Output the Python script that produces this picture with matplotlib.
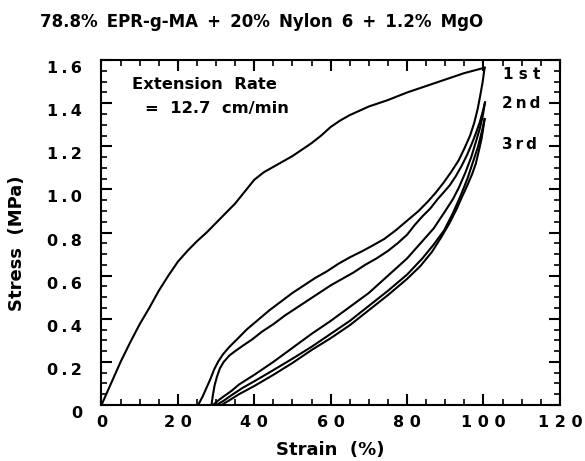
import numpy as np
import matplotlib
matplotlib.use("Agg")
import matplotlib.pyplot as plt
from matplotlib.ticker import MultipleLocator, FixedLocator
from matplotlib.transforms import ScaledTranslation

# cycle 1 loading
strain_load1 = [0, 2.5, 5, 7.5, 10, 12.5, 15, 17.5, 20, 22.5, 25, 27.5, 30, 32.5, 35,
                37.5, 40, 42.5, 45, 47.5, 50, 52.5, 55, 57.5, 60, 62.5, 65, 67.5, 70,
                75, 80, 85, 90, 95, 100.3]
stress_load1 = [0, 0.10, 0.20, 0.29, 0.375, 0.45, 0.53, 0.60, 0.665, 0.715, 0.76, 0.80,
                0.845, 0.89, 0.935, 0.99, 1.045, 1.08, 1.105, 1.13, 1.155, 1.185, 1.215,
                1.25, 1.29, 1.32, 1.345, 1.365, 1.385, 1.415, 1.45, 1.48, 1.51, 1.54, 1.565]

# cycle 1 unloading
strain_unload1 = [100.3, 99.8, 99.2, 98.5, 97.6, 96.5, 95, 93.5, 91.5, 89.5, 87.5, 85.5,
                  83, 80, 77, 74, 71, 68.4, 65, 62, 59, 56, 53, 50, 47, 44, 41, 38, 35.5,
                  33.5, 31.8, 30.5, 29.5, 28.5, 27.5, 26.5, 25.3]
stress_unload1 = [1.565, 1.50, 1.44, 1.375, 1.31, 1.25, 1.19, 1.135, 1.08, 1.03, 0.985, 0.945,
                  0.90, 0.855, 0.81, 0.77, 0.74, 0.715, 0.685, 0.655, 0.62, 0.59, 0.555, 0.52,
                  0.48, 0.44, 0.395, 0.35, 0.305, 0.27, 0.235, 0.20, 0.165, 0.12, 0.08, 0.04, 0]

# cycle 2 unloading
strain_unload2 = [100.4, 99.8, 99, 98, 96.9, 95.7, 94.3, 92.7, 91.2, 90, 88, 86, 84, 82, 80,
                  77.5, 75, 72, 69, 66, 63, 60, 57, 54, 51, 48, 45, 42, 39.5, 37, 35, 33.5,
                  32, 31, 30.2, 29.6, 29.2, 28.8]
stress_unload2 = [1.404, 1.36, 1.31, 1.26, 1.21, 1.16, 1.11, 1.06, 1.02, 0.995, 0.955, 0.91,
                  0.875, 0.835, 0.79, 0.75, 0.715, 0.68, 0.65, 0.615, 0.585, 0.555, 0.52, 0.485,
                  0.45, 0.415, 0.375, 0.34, 0.305, 0.275, 0.25, 0.23, 0.20, 0.17, 0.13, 0.09,
                  0.05, 0]

# cycle 2 loading
strain_load2 = [29.2, 30.5, 32, 34, 36, 40, 45, 50, 55, 60, 65, 70, 75, 80, 84, 87, 90,
                92, 93.6, 95.3, 96.8, 98, 99, 99.8, 100.4]
stress_load2 = [0, 0.02, 0.04, 0.065, 0.095, 0.14, 0.20, 0.265, 0.33, 0.39, 0.455, 0.52,
                0.60, 0.68, 0.76, 0.82, 0.90, 0.955, 1.01, 1.08, 1.15, 1.22, 1.28, 1.34, 1.404]

# cycle 3 loading
strain_load3 = [30.1, 32, 34, 37, 40, 45, 50, 55, 60, 65, 70, 75, 80, 84, 87, 89.7, 92, 94,
                95.8, 97.3, 98.6, 99.6, 100.3]
stress_load3 = [0, 0.02, 0.045, 0.08, 0.11, 0.162, 0.215, 0.27, 0.33, 0.39, 0.46, 0.53, 0.605,
                0.68, 0.745, 0.81, 0.89, 0.97, 1.05, 1.13, 1.20, 1.27, 1.327]

# cycle 3 unloading
strain_unload3 = [100.3, 100, 99.5, 98.8, 98, 97, 95.8, 94.5, 93, 91, 89, 86.5, 83.5, 80, 75,
                  70, 65, 60, 55, 50, 45, 40, 36, 33.5, 31.4]
stress_unload3 = [1.327, 1.29, 1.235, 1.18, 1.12, 1.07, 1.02, 0.97, 0.91, 0.84, 0.78, 0.71,
                  0.645, 0.585, 0.51, 0.44, 0.37, 0.31, 0.255, 0.195, 0.14, 0.088, 0.05, 0.022, 0]

xticks = [0, 20, 40, 60, 80, 100, 120]
xtick_labels = ["0", "2 0", "4 0", "6 0", "8 0", "1 0 0", "1 2 0"]
yticks = [0, 0.2, 0.4, 0.6, 0.8, 1.0, 1.2, 1.4, 1.6]
ytick_labels = ["0", "0\u2009.\u20092", "0\u2009.\u20094", "0\u2009.\u20096", "0\u2009.\u20098",
                "1\u2009.\u20090", "1\u2009.\u20092", "1\u2009.\u20094", "1\u2009.\u20096"]

plt.rcParams['font.family'] = ['DejaVu Sans']
plt.rcParams['font.weight'] = 'bold'

fig = plt.figure(figsize=(5.85, 4.61), dpi=100)
ax = fig.add_axes([0.1735, 0.1215, 0.7835, 0.748])

curves = [(strain_load1, stress_load1), (strain_unload1, stress_unload1),
          (strain_unload2, stress_unload2), (strain_load2, stress_load2),
          (strain_load3, stress_load3), (strain_unload3, stress_unload3)]
for xs, ys in curves:
    ax.plot(xs, ys, color='black', lw=1.5, solid_joinstyle='round')

ax.set_xlim(0, 120)
ax.set_ylim(0, 1.6)
ax.xaxis.set_major_locator(FixedLocator(xticks))
ax.set_xticklabels(xtick_labels)
ax.yaxis.set_major_locator(FixedLocator(yticks))
ax.set_yticklabels(ytick_labels)
ax.xaxis.set_minor_locator(MultipleLocator(5))
ax.yaxis.set_minor_locator(MultipleLocator(0.05))
ax.tick_params(which='both', direction='in', top=True, right=True)
ax.tick_params(which='major', length=8, width=1.5, labelsize=11.5)
ax.tick_params(which='minor', length=4.3, width=1.2)
ax.tick_params(axis='x', which='major', pad=7)
ax.tick_params(axis='y', which='major', pad=14)
for s in ax.spines.values():
    s.set_linewidth(1.5)

off = ScaledTranslation(0, -0.07, fig.dpi_scale_trans)
for lab in ax.get_yticklabels():
    lab.set_transform(lab.get_transform() + off)

ax.text(7.9, 1.489, "Extension  Rate", fontsize=11.8, fontweight='bold', va='center')
ax.text(11.4, 1.378, "=  12.7  cm/min", fontsize=11.8, fontweight='bold', va='center')
ax.text(105.1, 1.532, "1 s t", fontsize=11, fontweight='bold', va='center')
ax.text(104.9, 1.40, "2\u2009n\u2009d", fontsize=11, fontweight='bold', va='center')
ax.text(104.9, 1.21, "3\u2009r\u2009d", fontsize=11, fontweight='bold', va='center')

fig.text(0.448, 0.952, "78.8% \u2009EPR-g-MA \u2009+ \u200920% \u2009Nylon \u20096 \u2009+ \u20091.2% \u2009MgO",
         fontsize=12, fontweight='bold', ha='center', va='center')
fig.text(0.565, 0.024, "Strain  (%)", fontsize=13, fontweight='bold', ha='center', va='center')
fig.text(0.029, 0.473, "Stress  (MPa)", fontsize=13, fontweight='bold', ha='center',
         va='center', rotation=90)

fig.savefig("out.png", dpi=100)
